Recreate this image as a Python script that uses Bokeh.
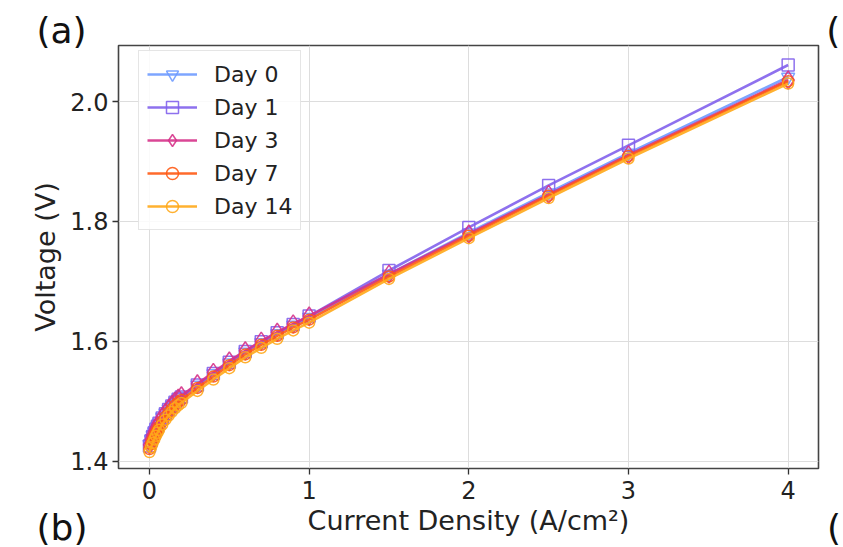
from bokeh.plotting import figure
from bokeh.models import Range1d, Title, Legend, LegendItem, FixedTicker
from bokeh.embed import file_html
from bokeh.resources import INLINE

# ---- data ----
current = [0, 0.01, 0.02, 0.03, 0.04, 0.05, 0.06, 0.08, 0.10, 0.12, 0.14, 0.16, 0.18, 0.20,
           0.3, 0.4, 0.5, 0.6, 0.7, 0.8, 0.9, 1.0, 1.5, 2.0, 2.5, 3.0, 4.0]

day0 = [1.428, 1.436, 1.443, 1.449, 1.454, 1.459, 1.464, 1.473, 1.480, 1.487, 1.493, 1.499, 1.504, 1.508,
        1.527, 1.546, 1.564, 1.582, 1.598, 1.613, 1.627, 1.640, 1.712, 1.781, 1.848, 1.914, 2.041]
day1 = [1.425, 1.434, 1.441, 1.447, 1.453, 1.458, 1.463, 1.472, 1.479, 1.486, 1.492, 1.498, 1.503, 1.507,
        1.527, 1.546, 1.565, 1.583, 1.599, 1.614, 1.628, 1.642, 1.718, 1.790, 1.860, 1.927, 2.061]
day3 = [1.427, 1.436, 1.443, 1.449, 1.455, 1.460, 1.465, 1.474, 1.481, 1.488, 1.494, 1.500, 1.505, 1.509,
        1.529, 1.548, 1.567, 1.584, 1.600, 1.615, 1.629, 1.642, 1.712, 1.779, 1.845, 1.911, 2.036]
day7 = [1.420, 1.428, 1.435, 1.441, 1.447, 1.452, 1.457, 1.466, 1.474, 1.481, 1.487, 1.493, 1.498, 1.502,
        1.522, 1.541, 1.560, 1.578, 1.594, 1.609, 1.623, 1.636, 1.708, 1.776, 1.843, 1.909, 2.034]
day14 = [1.415, 1.423, 1.430, 1.436, 1.442, 1.447, 1.452, 1.461, 1.469, 1.476, 1.482, 1.488, 1.493, 1.497,
         1.517, 1.536, 1.555, 1.573, 1.589, 1.604, 1.618, 1.631, 1.704, 1.772, 1.839, 1.905, 2.030]

series_names = ["Day 0", "Day 1", "Day 3", "Day 7", "Day 14"]
series_values = [day0, day1, day3, day7, day14]
series_colors = ["#6f9bff", "#8262ec", "#d6338a", "#ff5a14", "#ffa91a"]
series_markers = ["inverted_triangle", "square", "diamond", "circle", "circle"]
marker_sizes = [13, 12, 18, 11, 11]

x_ticks = [0, 1, 2, 3, 4]
y_ticks = [1.4, 1.6, 1.8, 2.0]

# letters of the neighbouring sub-panels that show at the edges of the crop
top_letters = ("(a)", "(")
bottom_letters = ("(b)", "(")

FONT = "DejaVu Sans"
GAP = "\u00a0" * 64 + "\u2009"

p = figure(width=843, height=547, output_backend="svg", toolbar_location=None,
           x_range=Range1d(-0.194, 4.19), y_range=Range1d(1.3875, 2.0936),
           min_border_left=118, min_border_right=25, min_border_top=45, min_border_bottom=79)

items = []
for name, vals, col, mk, ms in zip(series_names, series_values, series_colors, series_markers, marker_sizes):
    ln = p.line(current, vals, line_color=col, line_width=2.6, line_alpha=0.9)
    sc = p.scatter(current, vals, marker=mk, size=ms, fill_color=None,
                   line_color=col, line_width=1.5, line_alpha=0.9)
    items.append(LegendItem(label=name, renderers=[ln, sc]))

legend = Legend(items=items, location=(20, 238), margin=0,
                label_text_font=FONT, label_text_font_size="22px", label_text_color="#222222",
                glyph_width=50, glyph_height=30, label_height=30, spacing=3, padding=8,
                label_standoff=17, border_line_color="#cccccc", border_line_width=1.2,
                background_fill_color="white", background_fill_alpha=0.85)
p.add_layout(legend, "center")

for ax in (p.xaxis[0], p.yaxis[0]):
    ax.axis_line_color = None
    ax.major_tick_line_color = "#333333"
    ax.major_tick_line_width = 1.3
    ax.major_tick_out = 6
    ax.major_tick_in = 0
    ax.minor_tick_line_color = None
    ax.major_label_text_font = FONT
    ax.major_label_text_font_size = "24px"
    ax.major_label_text_color = "#222222"
    ax.axis_label_text_font = FONT
    ax.axis_label_text_font_size = "27px"
    ax.axis_label_text_font_style = "normal"
    ax.axis_label_text_color = "#222222"

p.xaxis.ticker = FixedTicker(ticks=x_ticks)
p.yaxis.ticker = FixedTicker(ticks=y_ticks)
p.yaxis.major_label_overrides = {t: f"{t:.1f}" for t in y_ticks}
p.xaxis.axis_label = "Current Density (A/cm²)"
p.yaxis.axis_label = "Voltage (V)"
p.xaxis.major_label_standoff = 6
p.yaxis.major_label_standoff = 4
p.xaxis.axis_label_standoff = 3
p.yaxis.axis_label_standoff = 6

p.xgrid.grid_line_color = "#dddddd"
p.ygrid.grid_line_color = "#dddddd"
p.xgrid.grid_line_width = 1
p.ygrid.grid_line_width = 1

p.outline_line_color = "#444444"
p.outline_line_width = 1.6
p.background_fill_color = "white"
p.border_fill_color = "white"

# panel letters (side-panel titles are not clipped to the frame)
p.title = Title(text=top_letters[0] + GAP + top_letters[1], align="left", offset=-82,
                standoff=-10, vertical_align="bottom", text_font=FONT, text_font_size="36px",
                text_font_style="normal", text_color="#111111")
p.add_layout(Title(text=bottom_letters[0] + GAP + bottom_letters[1], align="left", offset=-82,
                   standoff=-64, vertical_align="top", text_font=FONT, text_font_size="36px",
                   text_font_style="normal", text_color="#111111"), "below")

open("out.html", "w").write(file_html(p, INLINE))
